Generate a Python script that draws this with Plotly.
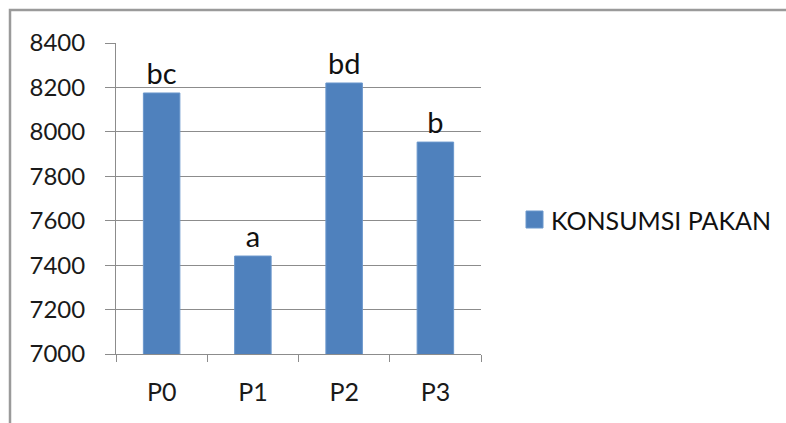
import plotly.graph_objects as go

# Feed consumption per treatment, with significance letters
categories = ["P0", "P1", "P2", "P3"]
konsumsi_pakan = [8175, 7441, 8220, 7954]
letters = ["bc", "a", "bd", "b"]
series_name = "KONSUMSI PAKAN"

bar_color = "#4F81BD"
grid_color = "#8C8C8C"
font_family = "Lato, 'Open Sans', sans-serif"

# Plot area in pixels
W, H = 786, 423
L, R, T, B = 116, 305, 43, 69
pw, ph = W - L - R, H - T - B


def px_x(x):
    return (x - L) / pw


def px_y(y):
    return 1 - (y - T) / ph


fig = go.Figure()
fig.add_trace(go.Bar(
    x=categories,
    y=konsumsi_pakan,
    name=series_name,
    marker=dict(color=bar_color, line=dict(color="#6A97CC", width=1)),
    text=letters,
    textposition="outside",
    textfont=dict(size=29, color="#111111", family=font_family),
    cliponaxis=False,
    showlegend=False,
))

fig.update_layout(
    width=W, height=H,
    margin=dict(l=L, r=R, t=T, b=B),
    paper_bgcolor="white",
    plot_bgcolor="white",
    bargap=0.6,
    font=dict(family=font_family, size=24, color="#1a1a1a"),
    uniformtext=dict(mode=False),
)

fig.update_yaxes(
    range=[7000, 8400],
    dtick=200,
    showgrid=True,
    gridcolor=grid_color,
    gridwidth=1,
    showline=True,
    linecolor=grid_color,
    linewidth=1,
    ticks="outside",
    ticklen=10,
    tickcolor=grid_color,
    tickfont=dict(size=24, color="#1a1a1a"),
    ticklabelstandoff=15,
    zeroline=False,
)

fig.update_xaxes(
    showline=True,
    linecolor=grid_color,
    linewidth=1,
    ticks="outside",
    tickson="boundaries",
    ticklen=7,
    tickcolor=grid_color,
    tickfont=dict(size=25, color="#1a1a1a"),
    ticklabelstandoff=16,
)

# Legend key: colour swatch plus series name
fig.add_shape(
    type="rect", xref="paper", yref="paper",
    x0=px_x(526), x1=px_x(543), y0=px_y(228), y1=px_y(211),
    line=dict(color="#6A97CC", width=1),
    fillcolor=bar_color,
)
fig.add_annotation(
    xref="paper", yref="paper",
    x=px_x(549), y=px_y(220),
    xanchor="left", yanchor="middle",
    text=series_name, showarrow=False,
    font=dict(size=25, color="#111111", family=font_family),
)

# Outer chart frame
fig.add_shape(
    type="rect", xref="paper", yref="paper",
    x0=px_x(10), x1=1.95, y0=-0.35, y1=px_y(10),
    line=dict(color="#9A9A9A", width=2.5),
    fillcolor="rgba(0,0,0,0)",
    layer="below",
)

fig.write_html("out.html")
